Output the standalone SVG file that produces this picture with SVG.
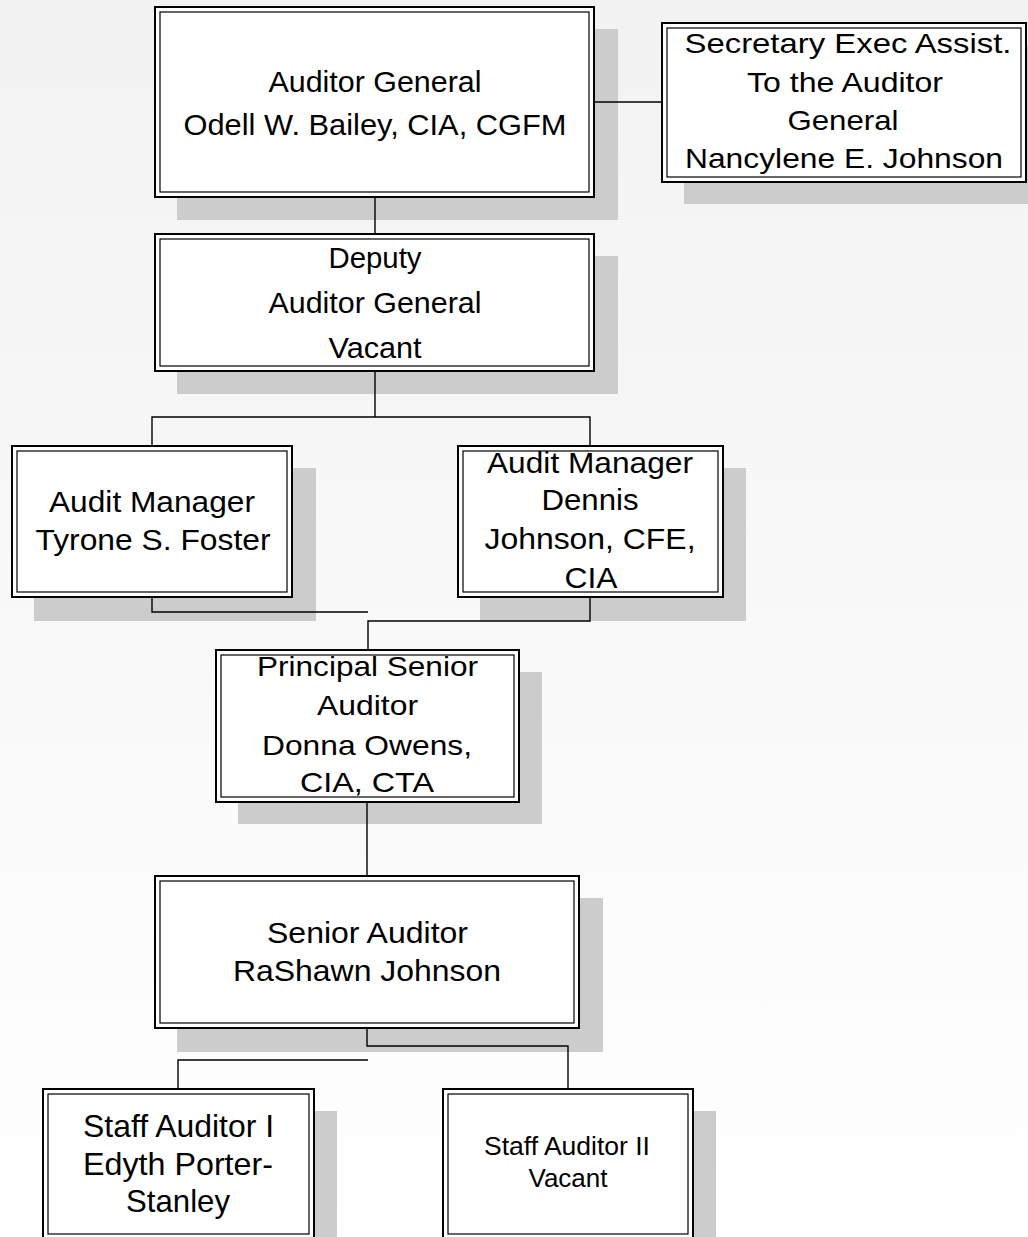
<svg xmlns="http://www.w3.org/2000/svg" width="1028" height="1237" viewBox="0 0 1028 1237">
<defs>
<linearGradient id="bg" x1="0" y1="0" x2="0" y2="1">
<stop offset="0" stop-color="#f2f2f2"/>
<stop offset="1" stop-color="#ffffff"/>
</linearGradient>
<style>
.sh{fill:#cccccc;stroke:none}
.o{fill:#ffffff;stroke:#000000;stroke-width:2}
.i{fill:none;stroke:#000000;stroke-width:1.2}
.t{font-family:"Liberation Sans",Arial,sans-serif;fill:#000000;text-anchor:middle}
.c{fill:none;stroke:#000000;stroke-width:1.4}
</style>
</defs>
<rect x="0" y="0" width="1028" height="1237" fill="url(#bg)"/>

<g id="shadows">
<rect class="sh" x="177" y="29" width="441" height="191"/>
<rect class="sh" x="684" y="45" width="366" height="159"/>
<rect class="sh" x="177" y="256" width="441" height="138"/>
<rect class="sh" x="34" y="468" width="282" height="153"/>
<rect class="sh" x="480" y="468" width="266" height="153"/>
<rect class="sh" x="238" y="672" width="304" height="152"/>
<rect class="sh" x="177" y="898" width="426" height="154"/>
<rect class="sh" x="65" y="1111" width="272" height="160"/>
<rect class="sh" x="465" y="1111" width="251" height="160"/>
</g>

<g id="connectors">
<line class="c" x1="594" y1="102" x2="662" y2="102"/>
<line class="c" x1="375" y1="197" x2="375" y2="234"/>
<polyline class="c" points="375,371 375,417"/>
<polyline class="c" points="152,446 152,417 590,417 590,446"/>
<polyline class="c" points="152,597 152,612 368,612"/>
<polyline class="c" points="590,597 590,621 368,621 368,650"/>
<line class="c" x1="367" y1="802" x2="367" y2="876"/>
<polyline class="c" points="367,1028 367,1046 568,1046 568,1089"/>
<polyline class="c" points="368,1060 178,1060 178,1089"/>
</g>

<g id="auditor-general">
<rect class="o" x="155" y="7" width="439" height="190"/>
<rect class="i" x="160" y="12" width="429" height="180"/>
<text class="t" font-size="30"><tspan x="375" y="92" textLength="213" lengthAdjust="spacingAndGlyphs">Auditor General</tspan><tspan x="375" y="135" textLength="383" lengthAdjust="spacingAndGlyphs">Odell W. Bailey, CIA, CGFM</tspan></text>
</g>

<g id="secretary">
<rect class="o" x="662" y="23" width="364" height="159"/>
<rect class="i" x="667" y="28" width="354" height="149"/>
<text class="t" font-size="28"><tspan x="848" y="53" textLength="327" lengthAdjust="spacingAndGlyphs">Secretary Exec Assist.</tspan><tspan x="845" y="92" textLength="196" lengthAdjust="spacingAndGlyphs">To the Auditor</tspan><tspan x="843" y="130" textLength="111" lengthAdjust="spacingAndGlyphs">General</tspan><tspan x="844" y="168" textLength="318" lengthAdjust="spacingAndGlyphs">Nancylene E. Johnson</tspan></text>
</g>

<g id="deputy">
<rect class="o" x="155" y="234" width="439" height="137"/>
<rect class="i" x="160" y="239" width="429" height="127"/>
<text class="t" font-size="30"><tspan x="375" y="268" textLength="93" lengthAdjust="spacingAndGlyphs">Deputy</tspan><tspan x="375" y="313" textLength="213" lengthAdjust="spacingAndGlyphs">Auditor General</tspan><tspan x="375" y="358" textLength="93" lengthAdjust="spacingAndGlyphs">Vacant</tspan></text>
</g>

<g id="audit-manager-foster">
<rect class="o" x="12" y="446" width="280" height="151"/>
<rect class="i" x="17" y="451" width="270" height="141"/>
<text class="t" font-size="30"><tspan x="152" y="512" textLength="206" lengthAdjust="spacingAndGlyphs">Audit Manager</tspan><tspan x="153" y="550" textLength="235" lengthAdjust="spacingAndGlyphs">Tyrone S. Foster</tspan></text>
</g>

<g id="audit-manager-johnson">
<rect class="o" x="458" y="446" width="265" height="151"/>
<rect class="i" x="463" y="451" width="255" height="141"/>
<text class="t" font-size="30"><tspan x="590" y="473" textLength="206" lengthAdjust="spacingAndGlyphs">Audit Manager</tspan><tspan x="590" y="510" textLength="97" lengthAdjust="spacingAndGlyphs">Dennis</tspan><tspan x="590" y="549" textLength="211" lengthAdjust="spacingAndGlyphs">Johnson, CFE,</tspan><tspan x="591" y="588" textLength="53" lengthAdjust="spacingAndGlyphs">CIA</tspan></text>
</g>

<g id="principal-senior">
<rect class="o" x="216" y="650" width="303" height="152"/>
<rect class="i" x="221" y="655" width="293" height="142"/>
<text class="t" font-size="28"><tspan x="367.5" y="676" textLength="221" lengthAdjust="spacingAndGlyphs">Principal Senior</tspan><tspan x="367.5" y="715" textLength="101" lengthAdjust="spacingAndGlyphs">Auditor</tspan><tspan x="367" y="755" textLength="210" lengthAdjust="spacingAndGlyphs">Donna Owens,</tspan><tspan x="367" y="792" textLength="134" lengthAdjust="spacingAndGlyphs">CIA, CTA</tspan></text>
</g>

<g id="senior-auditor">
<rect class="o" x="155" y="876" width="424" height="152"/>
<rect class="i" x="160" y="881" width="414" height="142"/>
<text class="t" font-size="29"><tspan x="367.5" y="943" textLength="201" lengthAdjust="spacingAndGlyphs">Senior Auditor</tspan><tspan x="367" y="981" textLength="268" lengthAdjust="spacingAndGlyphs">RaShawn Johnson</tspan></text>
</g>

<g id="staff-auditor-1">
<rect class="o" x="43" y="1089" width="271" height="150"/>
<rect class="i" x="48" y="1094" width="261" height="140"/>
<text class="t" font-size="32"><tspan x="178.5" y="1137" textLength="191" lengthAdjust="spacingAndGlyphs">Staff Auditor I</tspan><tspan x="178" y="1175" textLength="190" lengthAdjust="spacingAndGlyphs">Edyth Porter-</tspan><tspan x="178" y="1212" textLength="104" lengthAdjust="spacingAndGlyphs">Stanley</tspan></text>
</g>

<g id="staff-auditor-2">
<rect class="o" x="443" y="1089" width="250" height="150"/>
<rect class="i" x="448" y="1094" width="240" height="140"/>
<text class="t" font-size="25"><tspan x="567" y="1155" textLength="166" lengthAdjust="spacingAndGlyphs">Staff Auditor II</tspan><tspan x="568" y="1187" textLength="79" lengthAdjust="spacingAndGlyphs">Vacant</tspan></text>
</g>
</svg>
